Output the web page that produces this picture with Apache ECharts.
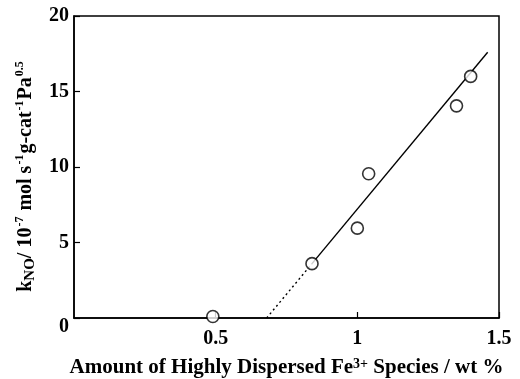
<!DOCTYPE html>
<html>
<head>
<meta charset="utf-8">
<script src="https://cdn.jsdelivr.net/npm/echarts@6/dist/echarts.min.js"></script>
<style>
  html, body { margin: 0; padding: 0; background: #fff; }
  #chart { width: 520px; height: 379px; }
</style>
</head>
<body>
<div id="chart"></div>
<script>
// Measured rate constants vs. amount of highly dispersed Fe3+
const ironAmount = [0.49, 0.84, 1.0, 1.04, 1.35, 1.40];
const rateConst  = [0.1, 3.6, 5.95, 9.55, 14.05, 16.0];

// Linear fit: solid over the data range, dotted extrapolation to the x-intercept
const fitSolidX = [0.84, 1.46];
const fitSolidY = [3.6, 17.6];
const fitDottedX = [0.68, 0.84];
const fitDottedY = [0.0, 3.6];

const xTicks = [0, 0.5, 1, 1.5];
const yTicks = [0, 5, 10, 15, 20];

const FONT = '"Liberation Serif", "Times New Roman", serif';

const pairs = (xs, ys) => xs.map((x, i) => [x, ys[i]]);

const chart = echarts.init(document.getElementById('chart'));
chart.setOption({
  animation: false,
  backgroundColor: '#fff',
  grid: {
    left: 74, right: 21, top: 16, bottom: 61,
    containLabel: false,
    outerBoundsMode: 'none',
    show: true, borderColor: '#000', borderWidth: 1.5, backgroundColor: 'transparent'
  },
  xAxis: {
    type: 'value',
    min: xTicks[0], max: xTicks[xTicks.length - 1], interval: 0.5,
    axisLine: { show: true, lineStyle: { color: '#000', width: 1.5 } },
    axisTick: { show: true, inside: true, length: 6, lineStyle: { color: '#000', width: 1.2 } },
    splitLine: { show: false },
    axisLabel: {
      showMinLabel: false,
      margin: 11,
      color: '#000', fontFamily: FONT, fontWeight: 'bold', fontSize: 20,
      formatter: v => String(v)
    },
    name: 'Amount of Highly Dispersed Fe{sup|3+} Species / wt %',
    nameLocation: 'middle',
    nameGap: 39,
    nameTextStyle: {
      color: '#000', fontFamily: FONT, fontWeight: 'bold', fontSize: 21,
      rich: {
        sup: { fontFamily: FONT, fontWeight: 'bold', fontSize: 14, padding: [0, 0, 8, 0] }
      }
    }
  },
  yAxis: {
    type: 'value',
    min: yTicks[0], max: yTicks[yTicks.length - 1], interval: 5,
    axisLine: { show: true, lineStyle: { color: '#000', width: 1.5 } },
    axisTick: { show: true, inside: true, length: 6, lineStyle: { color: '#000', width: 1.2 } },
    splitLine: { show: false },
    axisLabel: {
      margin: 5,
      color: '#000', fontFamily: FONT, fontWeight: 'bold', fontSize: 20,
      formatter: v => (v === 0 ? '{z|0}' : String(v)),
      rich: {
        z: { fontFamily: FONT, fontWeight: 'bold', fontSize: 20, padding: [18, 0, 0, 0] }
      }
    },
    name: 'k{sub|NO}/ 10{sup|-7} mol s{sup|-1}g-cat{sup|-1}Pa{sup|0.5}',
    nameLocation: 'middle',
    nameRotate: 90,
    nameGap: 33,
    nameTextStyle: {
      color: '#000', fontFamily: FONT, fontWeight: 'bold', fontSize: 20,
      padding: [0, 18, 0, 0],
      rich: {
        sub: { fontFamily: FONT, fontWeight: 'bold', fontSize: 15, padding: [9, 0, 0, 0] },
        sup: { fontFamily: FONT, fontWeight: 'bold', fontSize: 12, padding: [0, 1, 12, 1] }
      }
    }
  },
  series: [
    {
      type: 'line',
      data: pairs(fitSolidX, fitSolidY),
      symbol: 'none',
      lineStyle: { color: '#000', width: 1.4 },
      z: 2
    },
    {
      type: 'line',
      data: pairs(fitDottedX, fitDottedY),
      symbol: 'none',
      lineStyle: { color: '#000', width: 1.4, type: [2, 3] },
      z: 2
    },
    {
      type: 'scatter',
      data: pairs(ironAmount, rateConst),
      symbol: 'circle',
      symbolSize: 12,
      itemStyle: { color: '#fff', borderColor: '#000', borderWidth: 1.6 },
      z: 3
    }
  ]
});
</script>
</body>
</html>
